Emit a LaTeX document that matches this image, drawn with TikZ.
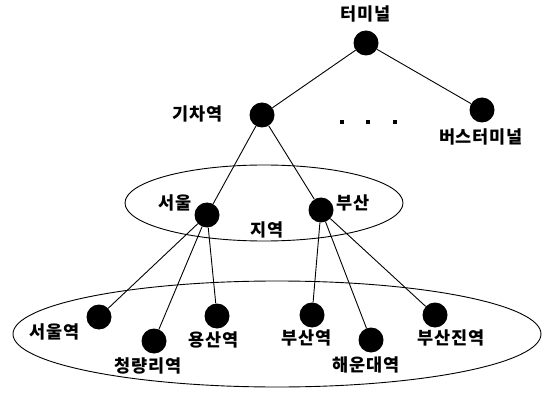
\documentclass[tikz,border=0pt]{standalone}
\usepackage{fontspec}
\setmainfont{Noto Sans CJK KR}[LetterSpace=5]
\begin{document}
\begin{tikzpicture}[x=1pt,y=-1pt,
  dot/.style={circle,fill=black,inner sep=0pt,minimum size=25pt},
  lbl/.style={font=\fontsize{17.5}{19}\selectfont\bfseries,inner sep=0pt},
  edge/.style={line width=0.9pt},
  region/.style={line width=0.9pt}]
\useasboundingbox (0,0) rectangle (548,395);
% ellipses
\draw[region] (264,203) ellipse [x radius=139, y radius=38];
\draw[region] (277,334) ellipse [x radius=264, y radius=53];
% nodes
\node[dot] (term) at (366,43) {};
\node[dot] (train) at (262,115) {};
\node[dot] (bus) at (482,110) {};
\node[dot] (seoul) at (207,215) {};
\node[dot] (busan) at (321,210) {};
\node[dot] (s1) at (99,317) {};
\node[dot] (s2) at (154,341) {};
\node[dot] (s3) at (217,316) {};
\node[dot] (b1) at (312,315) {};
\node[dot] (b2) at (371,340) {};
\node[dot] (b3) at (435,315) {};
% dots
\foreach \i/\x in {1/342,2/368,3/395}
  \node[fill=black,inner sep=0pt,minimum size=3.5pt] (d\i) at (\x,122) {};
% labels
\node[lbl] (tterm) at (366,14) {터미널};
\node[lbl] (ttrain) at (198,114) {기차역};
\node[lbl] (tbus) at (481,137) {버스터미널};
\node[lbl] (tseoul) at (175,203) {서울};
\node[lbl] (tbusan) at (353,203) {부산};
\node[lbl] (tregion) at (267,230) {지역};
\node[lbl] (ts1) at (55,332) {서울역};
\node[lbl] (ts2) at (148,366) {청량리역};
\node[lbl] (ts3) at (214,340) {용산역};
\node[lbl] (tb1) at (307,338) {부산역};
\node[lbl] (tb2) at (366,365) {해운대역};
\node[lbl] (tb3) at (451,338) {부산진역};
% edges
\draw[edge] (term) -- (train);
\draw[edge] (term) -- (bus);
\draw[edge] (train) -- (seoul);
\draw[edge] (train) -- (busan);
\draw[edge] (seoul) -- (s1);
\draw[edge] (seoul) -- (s2);
\draw[edge] (seoul) -- (s3);
\draw[edge] (busan) -- (b1);
\draw[edge] (busan) -- (b2);
\draw[edge] (busan) -- (b3);
\end{tikzpicture}
\end{document}
